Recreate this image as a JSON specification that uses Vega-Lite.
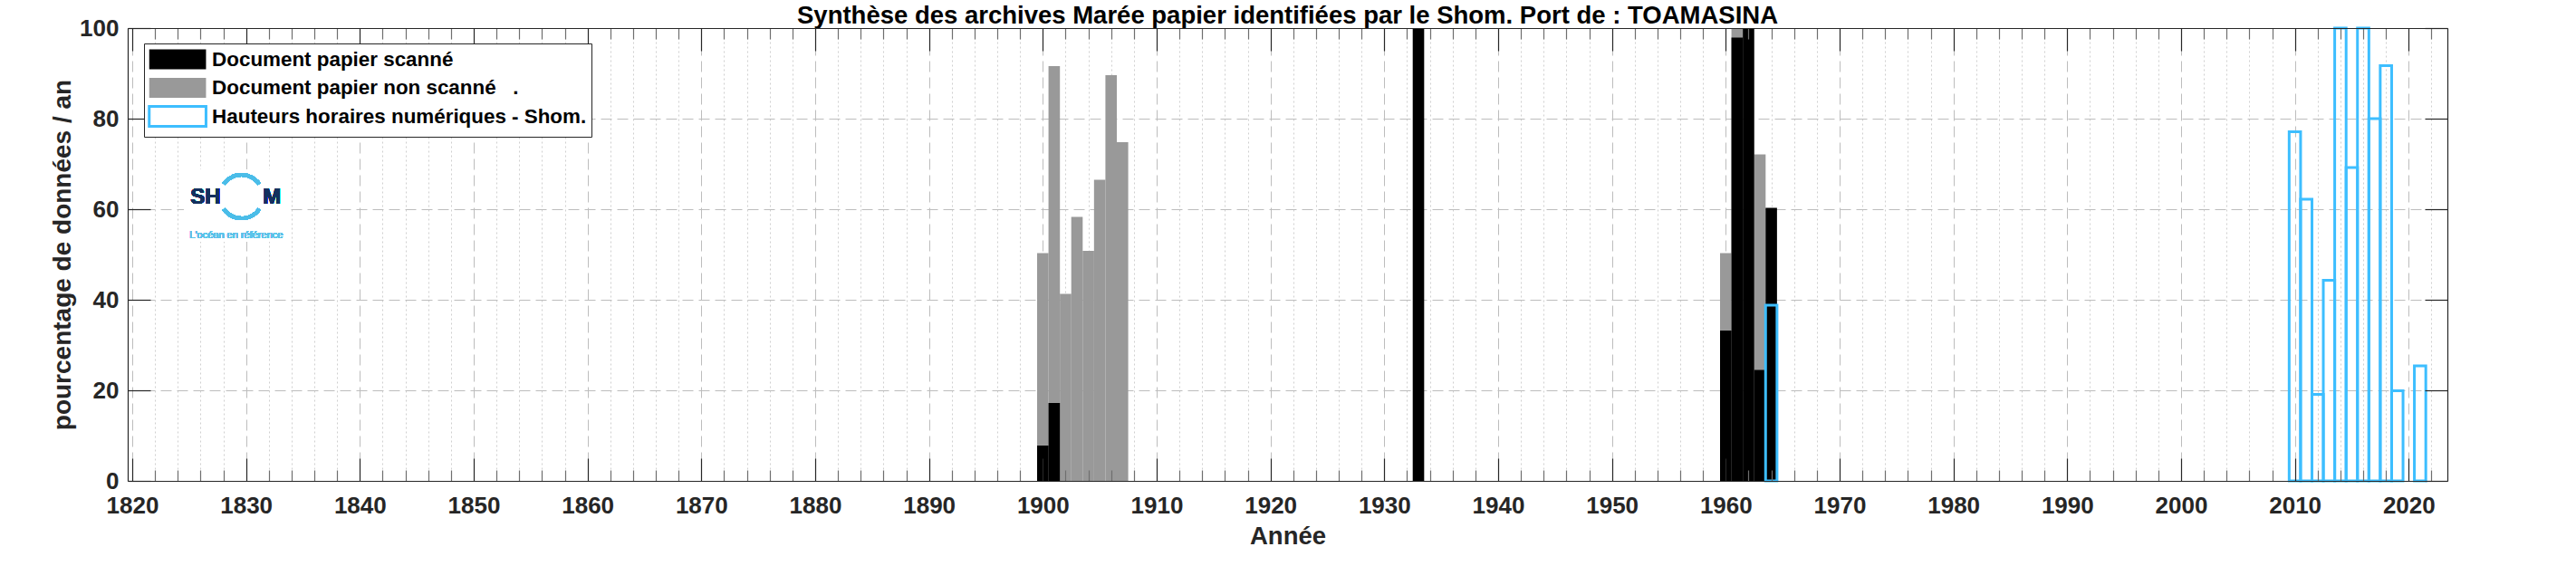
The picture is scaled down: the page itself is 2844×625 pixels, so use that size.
{
  "$schema": "https://vega.github.io/schema/vega-lite/v6.json",
  "width": 2561,
  "height": 500,
  "autosize": {"type": "none"},
  "padding": {"left": 141, "top": 31, "right": 142, "bottom": 94},
  "background": "white",
  "config": {"view": {"stroke": null}, "font": "Liberation Sans"},
  "title": {
    "text": "Synthèse des archives Marée papier identifiées par le Shom. Port de : TOAMASINA",
    "font": "Liberation Sans", "fontSize": 27.5, "fontWeight": "bold", "color": "#000000",
    "anchor": "middle", "offset": -13
  },
  "data": {
    "values": [
      {"year": 1900, "pct": 50.3, "type": "Document papier non scanné\u00a0\u00a0\u00a0."},
      {"year": 1901, "pct": 91.6, "type": "Document papier non scanné\u00a0\u00a0\u00a0."},
      {"year": 1902, "pct": 41.3, "type": "Document papier non scanné\u00a0\u00a0\u00a0."},
      {"year": 1903, "pct": 58.3, "type": "Document papier non scanné\u00a0\u00a0\u00a0."},
      {"year": 1904, "pct": 50.8, "type": "Document papier non scanné\u00a0\u00a0\u00a0."},
      {"year": 1905, "pct": 66.5, "type": "Document papier non scanné\u00a0\u00a0\u00a0."},
      {"year": 1906, "pct": 89.6, "type": "Document papier non scanné\u00a0\u00a0\u00a0."},
      {"year": 1907, "pct": 74.8, "type": "Document papier non scanné\u00a0\u00a0\u00a0."},
      {"year": 1960, "pct": 50.3, "type": "Document papier non scanné\u00a0\u00a0\u00a0."},
      {"year": 1961, "pct": 100, "type": "Document papier non scanné\u00a0\u00a0\u00a0."},
      {"year": 1963, "pct": 72.1, "type": "Document papier non scanné\u00a0\u00a0\u00a0."},
      {"year": 1900, "pct": 7.8, "type": "Document papier scanné"},
      {"year": 1901, "pct": 17.2, "type": "Document papier scanné"},
      {"year": 1933, "pct": 100, "type": "Document papier scanné"},
      {"year": 1960, "pct": 33.2, "type": "Document papier scanné"},
      {"year": 1961, "pct": 97.9, "type": "Document papier scanné"},
      {"year": 1962, "pct": 100, "type": "Document papier scanné"},
      {"year": 1963, "pct": 24.5, "type": "Document papier scanné"},
      {"year": 1964, "pct": 60.3, "type": "Document papier scanné"},
      {"year": 1964, "pct": 38.8, "type": "Hauteurs horaires numériques - Shom."},
      {"year": 2010, "pct": 77.1, "type": "Hauteurs horaires numériques - Shom."},
      {"year": 2011, "pct": 62.2, "type": "Hauteurs horaires numériques - Shom."},
      {"year": 2012, "pct": 19.1, "type": "Hauteurs horaires numériques - Shom."},
      {"year": 2013, "pct": 44.3, "type": "Hauteurs horaires numériques - Shom."},
      {"year": 2014, "pct": 100, "type": "Hauteurs horaires numériques - Shom."},
      {"year": 2015, "pct": 69.2, "type": "Hauteurs horaires numériques - Shom."},
      {"year": 2016, "pct": 100, "type": "Hauteurs horaires numériques - Shom."},
      {"year": 2017, "pct": 80.0, "type": "Hauteurs horaires numériques - Shom."},
      {"year": 2018, "pct": 91.7, "type": "Hauteurs horaires numériques - Shom."},
      {"year": 2019, "pct": 19.9, "type": "Hauteurs horaires numériques - Shom."},
      {"year": 2021, "pct": 25.4, "type": "Hauteurs horaires numériques - Shom."}
    ]
  },
  "resolve": {"axis": {"x": "independent", "y": "independent"}},
  "layer": [
    {
      "transform": [{"filter": {"field": "type", "equal": "Document papier non scanné\u00a0\u00a0\u00a0."}}],
      "mark": {"type": "bar", "width": {"expr": "width/203"}, "strokeWidth": 3},
      "encoding": {
        "x": {"field": "year", "type": "quantitative",
          "scale": {"domain": [1820, 2023], "nice": false, "zero": false},
          "axis": {"orient": "bottom",
            "values": [1820,1822,1824,1826,1828,1830,1832,1834,1836,1838,1840,1842,1844,1846,1848,1850,1852,1854,1856,1858,1860,1862,1864,1866,1868,1870,1872,1874,1876,1878,1880,1882,1884,1886,1888,1890,1892,1894,1896,1898,1900,1902,1904,1906,1908,1910,1912,1914,1916,1918,1920,1922,1924,1926,1928,1930,1932,1934,1936,1938,1940,1942,1944,1946,1948,1950,1952,1954,1956,1958,1960,1962,1964,1966,1968,1970,1972,1974,1976,1978,1980,1982,1984,1986,1988,1990,1992,1994,1996,1998,2000,2002,2004,2006,2008,2010,2012,2014,2016,2018,2020,2022],
            "format": "d",
            "labelExpr": "datum.value % 10 === 0 ? datum.label : ''",
            "labelFont": "Liberation Sans", "labelFontSize": 26, "labelFontWeight": "bold", "labelColor": "#262626",
            "labelPadding": 14, "labelOverlap": false, "labelFlush": false, "labelBound": false,
            "ticks": false, "domain": false, "grid": true,
            "gridColor": {"condition": {"test": "datum.value % 10 === 0", "value": "#bdbdbd"}, "value": "#cfcfcf"},
            "gridDash": {"condition": {"test": "datum.value % 10 === 0", "value": [12, 6]}, "value": [2, 3]},
            "gridWidth": 1,
            "title": "Année", "titleFont": "Liberation Sans", "titleFontSize": 27.5, "titleFontWeight": "bold",
            "titleColor": "#262626", "titlePadding": 7, "zindex": 0}},
        "y": {"field": "pct", "type": "quantitative", "stack": null,
          "scale": {"domain": [0, 100], "nice": false},
          "axis": {"orient": "left", "values": [0, 20, 40, 60, 80, 100], "format": "d",
            "labelFont": "Liberation Sans", "labelFontSize": 26, "labelFontWeight": "bold", "labelColor": "#262626",
            "labelPadding": 10, "labelFlush": false, "labelBound": false, "labelOverlap": false,
            "ticks": false, "domain": false, "grid": true, "gridColor": "#bdbdbd", "gridDash": [12, 6], "gridWidth": 1,
            "title": "pourcentage de données / an", "titleFont": "Liberation Sans", "titleFontSize": 28,
            "titleFontWeight": "bold", "titleColor": "#262626", "titlePadding": 4, "zindex": 0}},
        "fill": {"field": "type", "type": "nominal",
          "scale": {"domain": ["Document papier scanné", "Document papier non scanné\u00a0\u00a0\u00a0.", "Hauteurs horaires numériques - Shom."],
                    "range": ["#000000", "#999999", "transparent"]},
          "legend": {"title": null, "orient": "none", "legendX": 18, "legendY": 17, "zindex": 2,
            "strokeColor": "#262626", "fillColor": "white", "padding": 5,
            "symbolType": "M-2.85,-1H2.85V1H-2.85Z", "symbolSize": 484, "symbolStrokeWidth": 3,
            "symbolOffset": 19.6, "labelOffset": 25.5, "rowPadding": -3.5,
            "labelFont": "Liberation Sans", "labelFontSize": 22.4, "labelFontWeight": "bold", "labelColor": "#000000", "labelLimit": 0}},
        "stroke": {"field": "type", "type": "nominal",
          "scale": {"domain": ["Document papier scanné", "Document papier non scanné\u00a0\u00a0\u00a0.", "Hauteurs horaires numériques - Shom."],
                    "range": ["transparent", "transparent", "#3dbeff"]},
          "legend": {"title": null, "orient": "none", "legendX": 18, "legendY": 17, "zindex": 2,
            "strokeColor": "#262626", "fillColor": "white", "padding": 5,
            "symbolType": "M-2.85,-1H2.85V1H-2.85Z", "symbolSize": 484, "symbolStrokeWidth": 3,
            "symbolOffset": 19.6, "labelOffset": 25.5, "rowPadding": -3.5,
            "labelFont": "Liberation Sans", "labelFontSize": 22.4, "labelFontWeight": "bold", "labelColor": "#000000", "labelLimit": 0}}
      }
    },
    {
      "transform": [{"filter": {"field": "type", "equal": "Document papier scanné"}}],
      "mark": {"type": "bar", "width": {"expr": "width/203"}, "strokeWidth": 3},
      "encoding": {
        "x": {"field": "year", "type": "quantitative",
          "scale": {"domain": [1820, 2023], "nice": false, "zero": false},
          "axis": {"orient": "bottom",
            "values": [1820,1822,1824,1826,1828,1830,1832,1834,1836,1838,1840,1842,1844,1846,1848,1850,1852,1854,1856,1858,1860,1862,1864,1866,1868,1870,1872,1874,1876,1878,1880,1882,1884,1886,1888,1890,1892,1894,1896,1898,1900,1902,1904,1906,1908,1910,1912,1914,1916,1918,1920,1922,1924,1926,1928,1930,1932,1934,1936,1938,1940,1942,1944,1946,1948,1950,1952,1954,1956,1958,1960,1962,1964,1966,1968,1970,1972,1974,1976,1978,1980,1982,1984,1986,1988,1990,1992,1994,1996,1998,2000,2002,2004,2006,2008,2010,2012,2014,2016,2018,2020,2022],
            "labels": false, "grid": false, "domain": true, "domainColor": "#262626", "domainWidth": 1.2,
            "ticks": true,
            "tickSize": {"condition": {"test": "datum.value % 10 === 0", "value": -25}, "value": -12},
            "tickColor": {"condition": {"test": "datum.value % 10 === 0", "value": "#262626"}, "value": "#6e6e6e"},
            "tickWidth": 1.2, "title": null, "zindex": 1}},
        "y": {"field": "pct", "type": "quantitative", "stack": null,
          "scale": {"domain": [0, 100], "nice": false},
          "axis": {"orient": "left", "values": [0, 20, 40, 60, 80, 100], "labels": false, "grid": false,
            "domain": true, "domainColor": "#262626", "domainWidth": 1.2,
            "ticks": true, "tickSize": -25, "tickColor": "#262626", "tickWidth": 1.2, "title": null, "zindex": 1}},
        "fill": {"field": "type", "type": "nominal", "legend": null,
          "scale": {"domain": ["Document papier scanné", "Document papier non scanné\u00a0\u00a0\u00a0.", "Hauteurs horaires numériques - Shom."],
                    "range": ["#000000", "#999999", "transparent"]}},
        "stroke": {"field": "type", "type": "nominal", "legend": null,
          "scale": {"domain": ["Document papier scanné", "Document papier non scanné\u00a0\u00a0\u00a0.", "Hauteurs horaires numériques - Shom."],
                    "range": ["transparent", "transparent", "#3dbeff"]}}
      }
    },
    {
      "transform": [{"filter": {"field": "type", "equal": "Hauteurs horaires numériques - Shom."}}],
      "mark": {"type": "bar", "width": {"expr": "width/203"}, "strokeWidth": 3},
      "encoding": {
        "x": {"field": "year", "type": "quantitative",
          "scale": {"domain": [1820, 2023], "nice": false, "zero": false},
          "axis": {"orient": "top",
            "values": [1820,1822,1824,1826,1828,1830,1832,1834,1836,1838,1840,1842,1844,1846,1848,1850,1852,1854,1856,1858,1860,1862,1864,1866,1868,1870,1872,1874,1876,1878,1880,1882,1884,1886,1888,1890,1892,1894,1896,1898,1900,1902,1904,1906,1908,1910,1912,1914,1916,1918,1920,1922,1924,1926,1928,1930,1932,1934,1936,1938,1940,1942,1944,1946,1948,1950,1952,1954,1956,1958,1960,1962,1964,1966,1968,1970,1972,1974,1976,1978,1980,1982,1984,1986,1988,1990,1992,1994,1996,1998,2000,2002,2004,2006,2008,2010,2012,2014,2016,2018,2020,2022],
            "labels": false, "grid": false, "domain": true, "domainColor": "#262626", "domainWidth": 1.2,
            "ticks": true,
            "tickSize": {"condition": {"test": "datum.value % 10 === 0", "value": -25}, "value": -12},
            "tickColor": {"condition": {"test": "datum.value % 10 === 0", "value": "#262626"}, "value": "#6e6e6e"},
            "tickWidth": 1.2, "title": null, "zindex": 1}},
        "y": {"field": "pct", "type": "quantitative", "stack": null,
          "scale": {"domain": [0, 100], "nice": false},
          "axis": {"orient": "right", "values": [0, 20, 40, 60, 80, 100], "labels": false, "grid": false,
            "domain": true, "domainColor": "#262626", "domainWidth": 1.2,
            "ticks": true, "tickSize": -25, "tickColor": "#262626", "tickWidth": 1.2, "title": null, "zindex": 1}},
        "fill": {"field": "type", "type": "nominal", "legend": null,
          "scale": {"domain": ["Document papier scanné", "Document papier non scanné\u00a0\u00a0\u00a0.", "Hauteurs horaires numériques - Shom."],
                    "range": ["#000000", "#999999", "transparent"]}},
        "stroke": {"field": "type", "type": "nominal", "legend": null,
          "scale": {"domain": ["Document papier scanné", "Document papier non scanné\u00a0\u00a0\u00a0.", "Hauteurs horaires numériques - Shom."],
                    "range": ["transparent", "transparent", "#3dbeff"]}}
      }
    },
    {
      "mark": {"type": "rect", "fill": "white"},
      "encoding": {
        "x": {"datum": 1824.6, "type": "quantitative", "axis": null, "scale": {"domain": [1820, 2023], "nice": false, "zero": false}},
        "x2": {"datum": 1833.9},
        "y": {"datum": 52.9, "type": "quantitative", "axis": null, "scale": {"domain": [0, 100], "nice": false}},
        "y2": {"datum": 68.7}
      }
    },
    {
      "mark": {"type": "point", "shape": "M-0.819,-0.574A1,1,0,0,1,0.819,-0.574L0.693,-0.486A0.846,0.846,0,0,0,-0.693,-0.486ZM-0.819,0.574A1,1,0,0,0,0.819,0.574L0.693,0.486A0.846,0.846,0,0,1,-0.693,0.486Z",
               "size": 2704, "filled": true, "color": "#4bbde8", "opacity": 1, "strokeWidth": 0},
      "encoding": {
        "x": {"datum": 1829.6, "type": "quantitative", "axis": null, "scale": {"domain": [1820, 2023], "nice": false, "zero": false}},
        "y": {"datum": 62.8, "type": "quantitative", "axis": null, "scale": {"domain": [0, 100], "nice": false}}
      }
    },
    {
      "mark": {"type": "text", "text": "SH", "font": "Liberation Sans", "fontWeight": "bold", "fontSize": 24,
               "color": "#14305e", "align": "center", "baseline": "alphabetic"},
      "encoding": {
        "x": {"datum": 1826.44, "type": "quantitative", "axis": null, "scale": {"domain": [1820, 2023], "nice": false, "zero": false}},
        "y": {"datum": 61.2, "type": "quantitative", "axis": null, "scale": {"domain": [0, 100], "nice": false}}
      }
    },
    {
      "mark": {"type": "text", "text": "M", "font": "Liberation Sans", "fontWeight": "bold", "fontSize": 24,
               "color": "#14305e", "align": "center", "baseline": "alphabetic"},
      "encoding": {
        "x": {"datum": 1832.27, "type": "quantitative", "axis": null, "scale": {"domain": [1820, 2023], "nice": false, "zero": false}},
        "y": {"datum": 61.2, "type": "quantitative", "axis": null, "scale": {"domain": [0, 100], "nice": false}}
      }
    },
    {
      "mark": {"type": "text", "text": "L'océan en référence", "font": "Liberation Sans Narrow, Liberation Sans", "fontSize": 11,
               "color": "#5bc2ea", "align": "center", "baseline": "alphabetic"},
      "encoding": {
        "x": {"datum": 1829.14, "type": "quantitative", "axis": null, "scale": {"domain": [1820, 2023], "nice": false, "zero": false}},
        "y": {"datum": 53.6, "type": "quantitative", "axis": null, "scale": {"domain": [0, 100], "nice": false}}
      }
    }
  ]
}
